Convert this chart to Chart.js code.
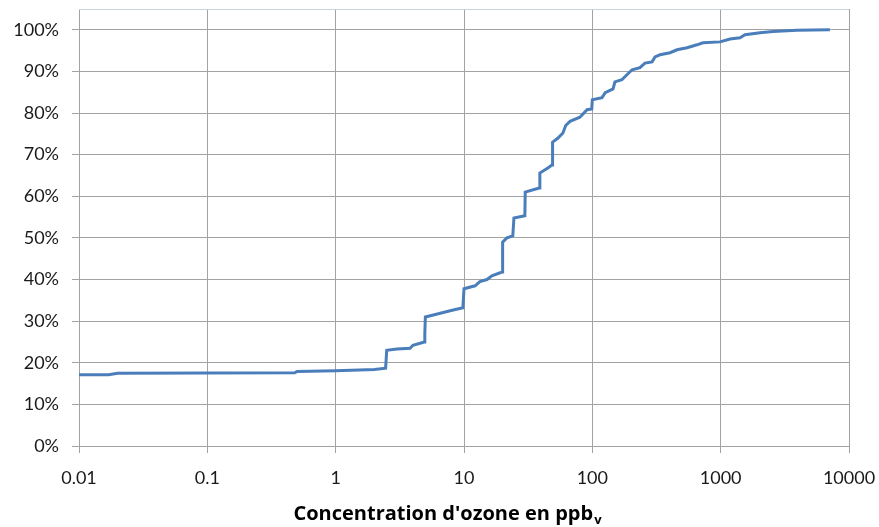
<!DOCTYPE html>
<html>
<head>
<meta charset="utf-8">
<script src="https://cdn.jsdelivr.net/npm/chart.js@4/dist/chart.umd.min.js"></script>
<style>
  html, body { margin: 0; padding: 0; background: #fff; }
  #ozoneChart { display: block; }
</style>
</head>
<body>
<canvas id="ozoneChart" width="879" height="527"></canvas>
<script>
// concentration (ppbv) et fréquence cumulée
const concentrations = [
  0.01, 0.017, 0.02, 0.48, 0.5, 1, 2.0, 2.45, 2.5, 3.0, 3.8, 4.0, 4.9, 4.95, 5.0,
  6.2, 7.8, 9.8, 10, 12.2, 13.3, 15.1, 16.5, 19.8, 20, 21.6, 24.0, 24.5, 29.8, 30,
  38.5, 39, 45, 48.5, 49, 54, 59, 62, 67, 80, 91, 99, 100, 119, 126, 145, 150,
  170, 186, 204, 235, 257, 292, 308, 337, 403, 457, 547, 654, 728, 988, 1183,
  1415, 1548, 2027, 2558, 3936, 7100
];
const cumulative = [
  0.171, 0.171, 0.175, 0.176, 0.179, 0.181, 0.184, 0.187, 0.230, 0.233, 0.235, 0.242, 0.250, 0.270, 0.310,
  0.317, 0.325, 0.332, 0.378, 0.385, 0.395, 0.400, 0.409, 0.418, 0.490, 0.500, 0.505, 0.548, 0.553, 0.610,
  0.620, 0.656, 0.668, 0.675, 0.730, 0.740, 0.752, 0.770, 0.780, 0.790, 0.808, 0.810, 0.832, 0.837, 0.849, 0.858, 0.875,
  0.880, 0.892, 0.904, 0.909, 0.920, 0.923, 0.935, 0.940, 0.945, 0.952, 0.957, 0.964, 0.969, 0.971, 0.978,
  0.981, 0.988, 0.993, 0.996, 0.999, 1.000
];

const xTicks = [0.01, 0.1, 1, 10, 100, 1000, 10000];
const xTickLabels = ['0.01', '0.1', '1', '10', '100', '1000', '10000'];
const yTicks = [0, 0.1, 0.2, 0.3, 0.4, 0.5, 0.6, 0.7, 0.8, 0.9, 1.0];
const yTickLabels = ['0%', '10%', '20%', '30%', '40%', '50%', '60%', '70%', '80%', '90%', '100%'];
const axisTitle = "Concentration d'ozone en ppb";
const axisTitleSub = 'v';

const gridColor = '#a3a3a3';

// bordure haute + titre de l'axe avec indice
const extras = {
  id: 'extras',
  beforeDatasetsDraw(chart) {
    const { ctx, chartArea } = chart;
    ctx.save();
    ctx.strokeStyle = '#c9d2de';
    ctx.lineWidth = 1;
    ctx.beginPath();
    ctx.moveTo(chartArea.left, chartArea.top + 0.5);
    ctx.lineTo(chartArea.right, chartArea.top + 0.5);
    ctx.stroke();
    ctx.restore();
  },
  afterDraw(chart) {
    const { ctx } = chart;
    ctx.save();
    const mainFont = 'bold 20px "Open Sans"';
    const subFont = 'bold 13px "Open Sans"';
    ctx.font = mainFont;
    const w1 = ctx.measureText(axisTitle).width;
    ctx.font = subFont;
    const w2 = ctx.measureText(axisTitleSub).width;
    const cx = 447;
    const x0 = cx - (w1 + w2) / 2;
    const base = 520;
    ctx.fillStyle = '#000';
    ctx.textBaseline = 'alphabetic';
    ctx.textAlign = 'left';
    ctx.font = mainFont;
    ctx.fillText(axisTitle, x0, base);
    ctx.font = subFont;
    ctx.fillText(axisTitleSub, x0 + w1 + 1, base + 4);
    ctx.restore();
  }
};

Chart.defaults.font.family = 'Lato';
Chart.defaults.font.size = 18;
Chart.defaults.color = '#1a1a1a';

new Chart(document.getElementById('ozoneChart').getContext('2d'), {
  type: 'line',
  data: {
    datasets: [{
      data: concentrations.map((c, i) => ({ x: c, y: cumulative[i] })),
      borderColor: '#4a7ebb',
      borderWidth: 3,
      pointRadius: 0,
      tension: 0,
      fill: false
    }]
  },
  options: {
    responsive: false,
    animation: false,
    layout: { padding: { left: 0, right: 30, top: 9, bottom: 0 } },
    plugins: {
      legend: { display: false },
      tooltip: { enabled: false }
    },
    scales: {
      x: {
        type: 'logarithmic',
        min: 0.01,
        max: 10000,
        afterBuildTicks: scale => { scale.ticks = xTicks.map(v => ({ value: v })); },
        afterFit: scale => {
          scale.height = 81;
          scale.paddingLeft = 0;
          scale.paddingRight = 0;
        },
        ticks: {
          autoSkip: false,
          maxRotation: 0,
          padding: 14,
          callback: (v, i) => xTickLabels[i]
        },
        grid: { color: gridColor, tickLength: 7 },
        border: { color: gridColor }
      },
      y: {
        min: 0,
        max: 1.05,
        afterBuildTicks: scale => { scale.ticks = yTicks.map(v => ({ value: v })); },
        afterFit: scale => {
          scale.width = 79;
          scale.paddingTop = 0;
          scale.paddingBottom = 0;
        },
        ticks: {
          padding: 13,
          callback: (v, i) => yTickLabels[i]
        },
        grid: { color: gridColor, tickLength: 7 },
        border: { color: gridColor }
      }
    }
  },
  plugins: [extras]
});
</script>
</body>
</html>
